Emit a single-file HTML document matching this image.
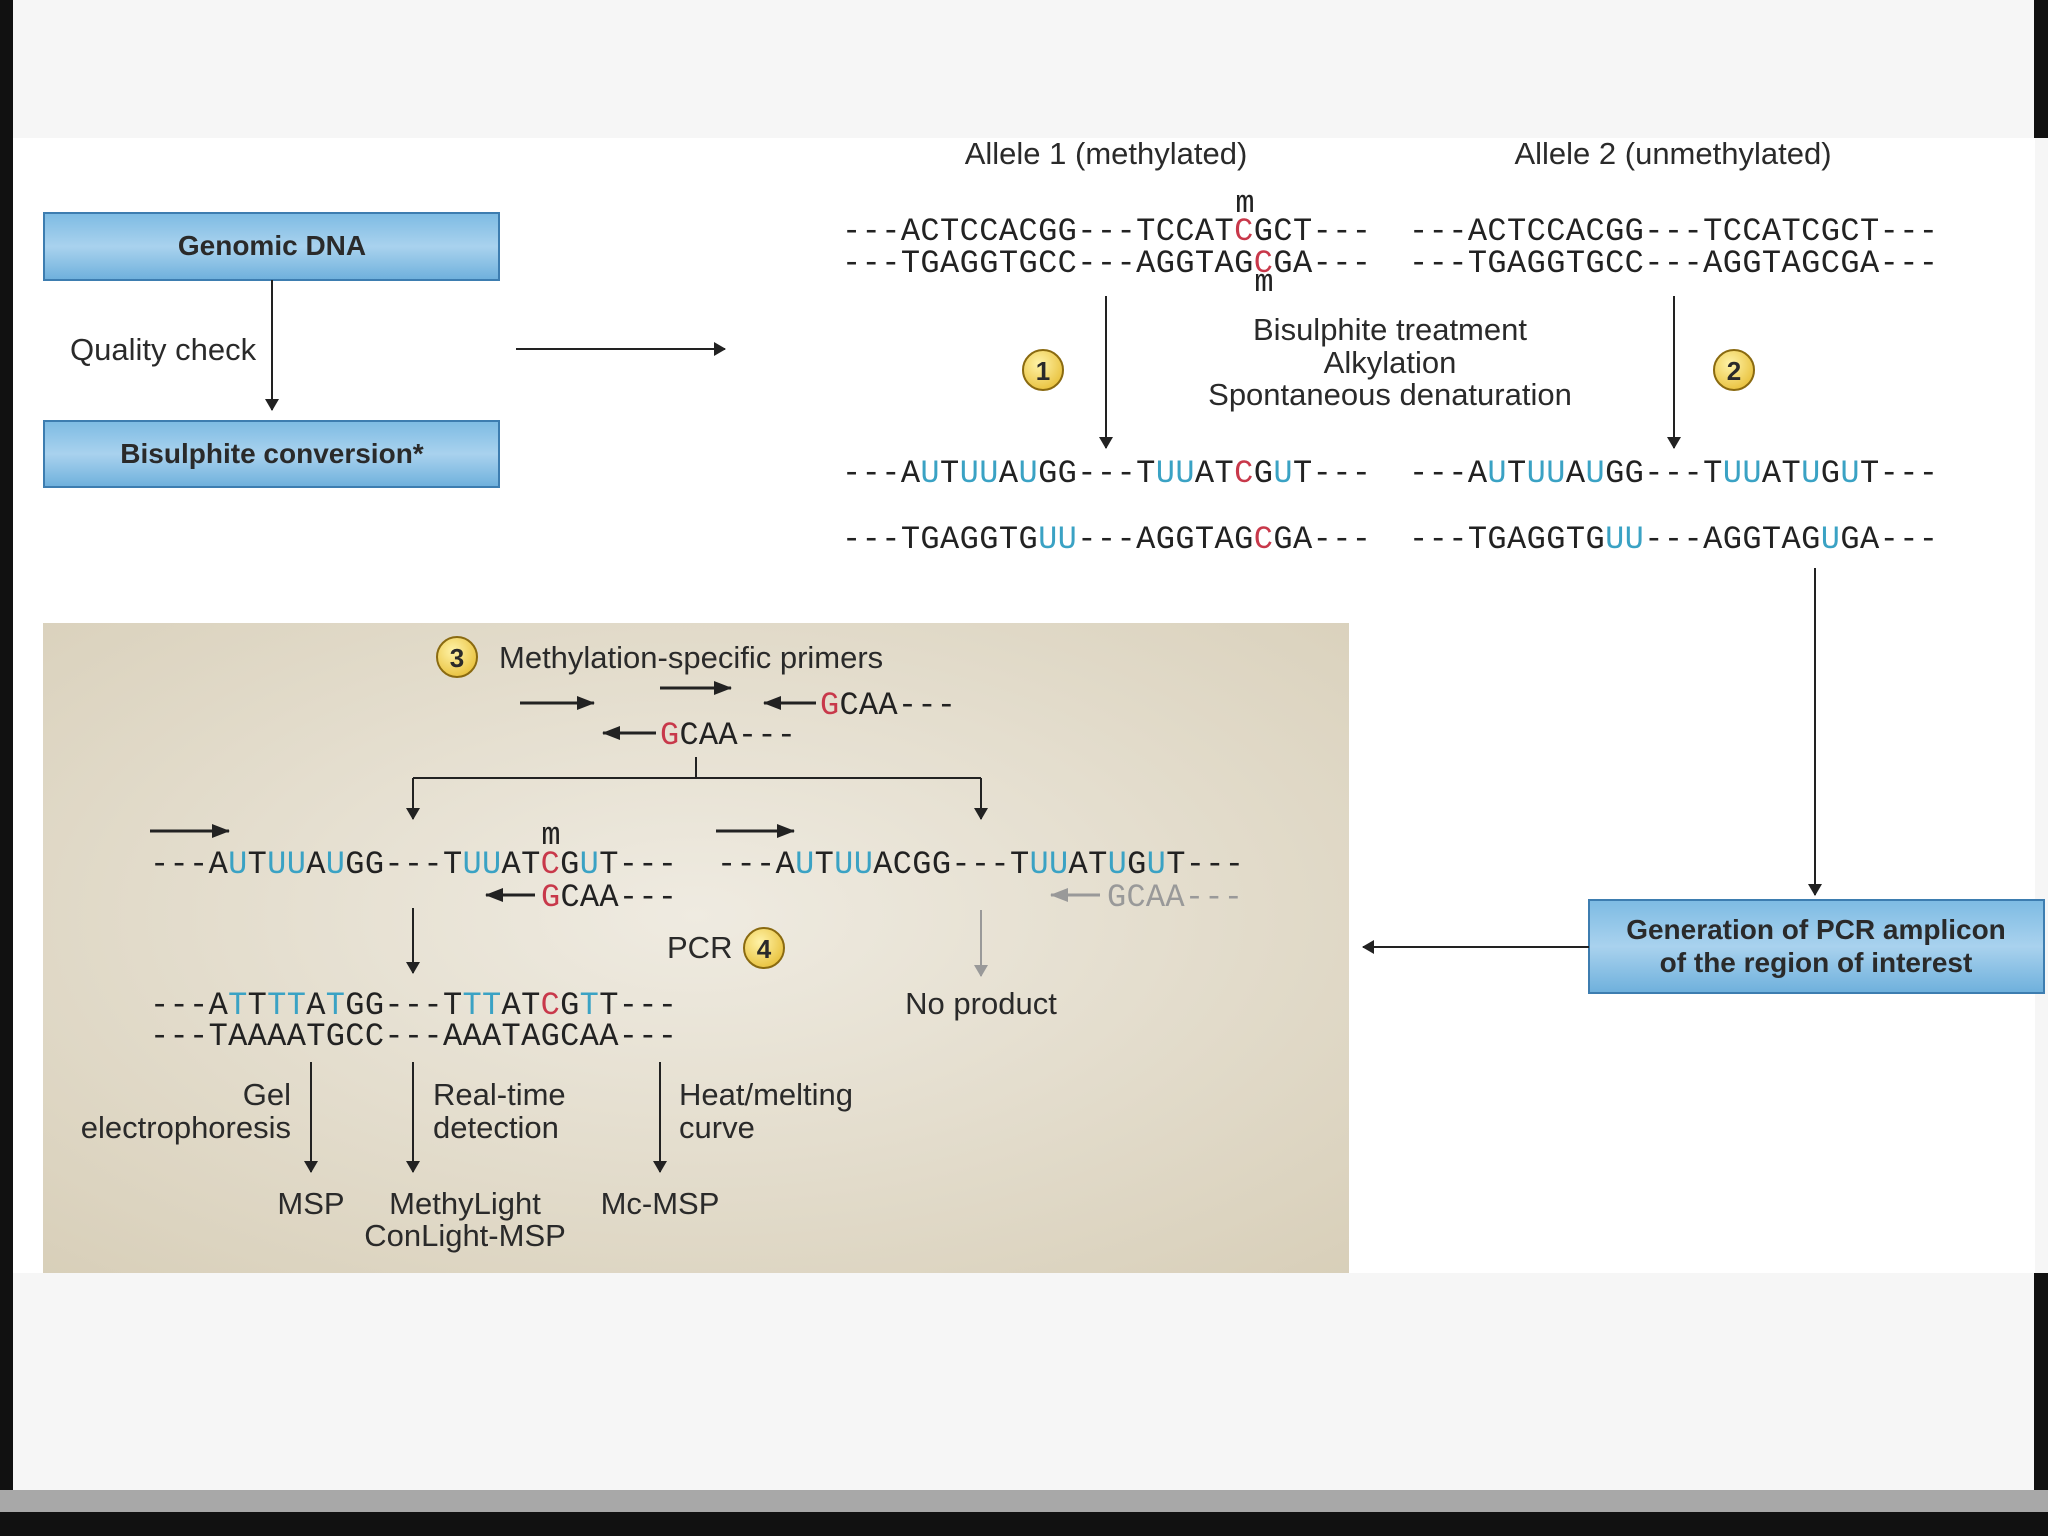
<!DOCTYPE html>
<html><head><meta charset="utf-8"><style>
html,body{margin:0;padding:0;width:2048px;height:1536px;overflow:hidden;background:#f6f6f6}
svg{display:block}
.s{font-family:"Liberation Sans",sans-serif;fill:#2a2a2a}
.m{font-family:"Liberation Mono",monospace;font-size:32px;fill:#222}
.b{fill:#3aa2c4}.r{fill:#c8384a}
</style></head><body>
<svg width="2048" height="1536" viewBox="0 0 2048 1536" xmlns="http://www.w3.org/2000/svg">
<defs>
<marker id="a" markerWidth="12" markerHeight="16" refX="11" refY="8" orient="auto" markerUnits="userSpaceOnUse"><path d="M0,1 L12,8 L0,15 z" fill="#222"/></marker>
<marker id="ag" markerWidth="12" markerHeight="16" refX="11" refY="8" orient="auto" markerUnits="userSpaceOnUse"><path d="M0,1 L12,8 L0,15 z" fill="#999"/></marker>
<marker id="at" markerWidth="18" markerHeight="14" refX="17" refY="7" orient="auto" markerUnits="userSpaceOnUse"><path d="M0,0 L18,7 L0,14 z" fill="#222"/></marker>
<marker id="atg" markerWidth="18" markerHeight="14" refX="17" refY="7" orient="auto" markerUnits="userSpaceOnUse"><path d="M0,0 L18,7 L0,14 z" fill="#999"/></marker>
<linearGradient id="bx" x1="0" y1="0" x2="0" y2="1"><stop offset="0" stop-color="#7dbbe3"/><stop offset="0.5" stop-color="#a9d2ee"/><stop offset="1" stop-color="#6eb0dc"/></linearGradient>
<radialGradient id="bg" cx="0.5" cy="0.45" r="0.75"><stop offset="0" stop-color="#efebe1"/><stop offset="1" stop-color="#d8cfb9"/></radialGradient>
<radialGradient id="cg" cx="0.4" cy="0.35" r="0.7"><stop offset="0" stop-color="#fff3a8"/><stop offset="1" stop-color="#e8c03a"/></radialGradient>
</defs>
<rect x="0" y="0" width="2048" height="1536" fill="#f6f6f6"/>
<rect x="13" y="138" width="2022" height="1135" fill="#fff"/>
<rect x="0" y="0" width="13" height="1536" fill="#111"/>
<rect x="2034" y="0" width="14" height="138" fill="#111"/>
<rect x="2034" y="1273" width="14" height="263" fill="#111"/>
<rect x="0" y="1490" width="2048" height="22" fill="#a8a8a8"/>
<rect x="0" y="1512" width="2048" height="24" fill="#111"/>

<rect x="44" y="213" width="455" height="67" fill="url(#bx)" stroke="#3d7db0" stroke-width="2"/>
<text class="s" x="272" y="255" font-size="28" font-weight="bold" text-anchor="middle">Genomic DNA</text>
<rect x="44" y="421" width="455" height="66" fill="url(#bx)" stroke="#3d7db0" stroke-width="2"/>
<text class="s" x="272" y="463" font-size="28" font-weight="bold" text-anchor="middle">Bisulphite conversion*</text>
<line x1="272" y1="280" x2="272" y2="410" stroke="#222" stroke-width="2" marker-end="url(#a)"/>
<text class="s" x="70" y="360" font-size="31">Quality check</text>
<line x1="516" y1="349" x2="725" y2="349" stroke="#222" stroke-width="2" marker-end="url(#a)"/>

<text class="s" x="1106" y="164" font-size="31" text-anchor="middle">Allele 1 (methylated)</text>
<text class="s" x="1673" y="164" font-size="31" text-anchor="middle">Allele 2 (unmethylated)</text>
<text class="m" x="1245" y="212" font-size="24" text-anchor="middle">m</text>
<text class="m" x="1264" y="291" font-size="24" text-anchor="middle">m</text>
<text class="m" x="842" y="240" textLength="529" lengthAdjust="spacing">---ACTCCACGG---TCCAT<tspan class="r">C</tspan>GCT---</text>
<text class="m" x="842" y="272" textLength="529" lengthAdjust="spacing">---TGAGGTGCC---AGGTAG<tspan class="r">C</tspan>GA---</text>
<text class="m" x="1409" y="240" textLength="529" lengthAdjust="spacing">---ACTCCACGG---TCCATCGCT---</text>
<text class="m" x="1409" y="272" textLength="529" lengthAdjust="spacing">---TGAGGTGCC---AGGTAGCGA---</text>
<line x1="1106" y1="296" x2="1106" y2="448" stroke="#222" stroke-width="2" marker-end="url(#a)"/>
<line x1="1674" y1="296" x2="1674" y2="448" stroke="#222" stroke-width="2" marker-end="url(#a)"/>
<circle cx="1043" cy="370" r="20" fill="url(#cg)" stroke="#8a6a10" stroke-width="2"/>
<text class="s" x="1043" y="380" font-size="26" font-weight="bold" text-anchor="middle">1</text>
<circle cx="1734" cy="370" r="20" fill="url(#cg)" stroke="#8a6a10" stroke-width="2"/>
<text class="s" x="1734" y="380" font-size="26" font-weight="bold" text-anchor="middle">2</text>
<text class="s" x="1390" y="340" font-size="31" text-anchor="middle">Bisulphite treatment</text>
<text class="s" x="1390" y="373" font-size="31" text-anchor="middle">Alkylation</text>
<text class="s" x="1390" y="405" font-size="31" text-anchor="middle">Spontaneous denaturation</text>
<text class="m" x="842" y="482" textLength="529" lengthAdjust="spacing">---A<tspan class="b">U</tspan>T<tspan class="b">UU</tspan>A<tspan class="b">U</tspan>GG---T<tspan class="b">UU</tspan>AT<tspan class="r">C</tspan>G<tspan class="b">U</tspan>T---</text>
<text class="m" x="842" y="548" textLength="529" lengthAdjust="spacing">---TGAGGTG<tspan class="b">UU</tspan>---AGGTAG<tspan class="r">C</tspan>GA---</text>
<text class="m" x="1409" y="482" textLength="529" lengthAdjust="spacing">---A<tspan class="b">U</tspan>T<tspan class="b">UU</tspan>A<tspan class="b">U</tspan>GG---T<tspan class="b">UU</tspan>AT<tspan class="b">U</tspan>G<tspan class="b">U</tspan>T---</text>
<text class="m" x="1409" y="548" textLength="529" lengthAdjust="spacing">---TGAGGTG<tspan class="b">UU</tspan>---AGGTAG<tspan class="b">U</tspan>GA---</text>
<line x1="1815" y1="568" x2="1815" y2="895" stroke="#222" stroke-width="2" marker-end="url(#a)"/>

<rect x="1589" y="900" width="455" height="93" fill="url(#bx)" stroke="#3d7db0" stroke-width="2"/>
<text class="s" x="1816" y="939" font-size="28" font-weight="bold" text-anchor="middle">Generation of PCR amplicon</text>
<text class="s" x="1816" y="972" font-size="28" font-weight="bold" text-anchor="middle">of the region of interest</text>
<line x1="1589" y1="947" x2="1363" y2="947" stroke="#222" stroke-width="2" marker-end="url(#a)"/>

<rect x="43" y="623" width="1306" height="650" fill="url(#bg)"/>
<circle cx="457" cy="657" r="20" fill="url(#cg)" stroke="#8a6a10" stroke-width="2"/>
<text class="s" x="457" y="667" font-size="26" font-weight="bold" text-anchor="middle">3</text>
<text class="s" x="499" y="668" font-size="31">Methylation-specific primers</text>
<line x1="520" y1="703" x2="594" y2="703" stroke="#222" stroke-width="3" marker-end="url(#at)"/>
<line x1="660" y1="688" x2="731" y2="688" stroke="#222" stroke-width="3" marker-end="url(#at)"/>
<line x1="816" y1="703" x2="764" y2="703" stroke="#222" stroke-width="3" marker-end="url(#at)"/>
<text class="m" x="820" y="714" textLength="136" lengthAdjust="spacing"><tspan class="r">G</tspan>CAA---</text>
<line x1="656" y1="733" x2="603" y2="733" stroke="#222" stroke-width="3" marker-end="url(#at)"/>
<text class="m" x="660" y="744" textLength="136" lengthAdjust="spacing"><tspan class="r">G</tspan>CAA---</text>
<path d="M696,757 V778 M413,778 H981" stroke="#222" stroke-width="2" fill="none"/>
<line x1="413" y1="778" x2="413" y2="819" stroke="#222" stroke-width="2" marker-end="url(#a)"/>
<line x1="981" y1="778" x2="981" y2="819" stroke="#222" stroke-width="2" marker-end="url(#a)"/>
<line x1="150" y1="831" x2="229" y2="831" stroke="#222" stroke-width="3" marker-end="url(#at)"/>
<line x1="716" y1="831" x2="794" y2="831" stroke="#222" stroke-width="3" marker-end="url(#at)"/>
<text class="m" x="551" y="844" font-size="24" text-anchor="middle">m</text>
<text class="m" x="150" y="873" textLength="527" lengthAdjust="spacing">---A<tspan class="b">U</tspan>T<tspan class="b">UU</tspan>A<tspan class="b">U</tspan>GG---T<tspan class="b">UU</tspan>AT<tspan class="r">C</tspan>G<tspan class="b">U</tspan>T---</text>
<text class="m" x="717" y="873" textLength="527" lengthAdjust="spacing">---A<tspan class="b">U</tspan>T<tspan class="b">UU</tspan>ACGG---T<tspan class="b">UU</tspan>AT<tspan class="b">U</tspan>G<tspan class="b">U</tspan>T---</text>
<line x1="535" y1="895" x2="486" y2="895" stroke="#222" stroke-width="3" marker-end="url(#at)"/>
<text class="m" x="541" y="906" textLength="136" lengthAdjust="spacing"><tspan class="r">G</tspan>CAA---</text>
<line x1="1100" y1="895" x2="1051" y2="895" stroke="#999" stroke-width="3" marker-end="url(#atg)"/>
<text class="m" x="1107" y="906" textLength="136" lengthAdjust="spacing" style="fill:#999">GCAA---</text>
<line x1="413" y1="908" x2="413" y2="973" stroke="#222" stroke-width="2" marker-end="url(#a)"/>
<line x1="981" y1="910" x2="981" y2="976" stroke="#999" stroke-width="2" marker-end="url(#ag)"/>
<text class="s" x="667" y="958" font-size="31">PCR</text>
<circle cx="764" cy="948" r="20" fill="url(#cg)" stroke="#8a6a10" stroke-width="2"/>
<text class="s" x="764" y="958" font-size="26" font-weight="bold" text-anchor="middle">4</text>
<text class="s" x="981" y="1014" font-size="31" text-anchor="middle">No product</text>
<text class="m" x="150" y="1014" textLength="527" lengthAdjust="spacing">---A<tspan class="b">T</tspan>T<tspan class="b">TT</tspan>A<tspan class="b">T</tspan>GG---T<tspan class="b">TT</tspan>AT<tspan class="r">C</tspan>G<tspan class="b">T</tspan>T---</text>
<text class="m" x="150" y="1045" textLength="527" lengthAdjust="spacing">---TAAAATGCC---AAATAGCAA---</text>
<line x1="311" y1="1062" x2="311" y2="1172" stroke="#222" stroke-width="2" marker-end="url(#a)"/>
<line x1="413" y1="1062" x2="413" y2="1172" stroke="#222" stroke-width="2" marker-end="url(#a)"/>
<line x1="660" y1="1062" x2="660" y2="1172" stroke="#222" stroke-width="2" marker-end="url(#a)"/>
<text class="s" x="291" y="1105" font-size="31" text-anchor="end">Gel</text>
<text class="s" x="291" y="1138" font-size="31" text-anchor="end">electrophoresis</text>
<text class="s" x="433" y="1105" font-size="31">Real-time</text>
<text class="s" x="433" y="1138" font-size="31">detection</text>
<text class="s" x="679" y="1105" font-size="31">Heat/melting</text>
<text class="s" x="679" y="1138" font-size="31">curve</text>
<text class="s" x="311" y="1214" font-size="31" text-anchor="middle">MSP</text>
<text class="s" x="465" y="1214" font-size="31" text-anchor="middle">MethyLight</text>
<text class="s" x="465" y="1246" font-size="31" text-anchor="middle">ConLight-MSP</text>
<text class="s" x="660" y="1214" font-size="31" text-anchor="middle">Mc-MSP</text>
</svg>
</body></html>
